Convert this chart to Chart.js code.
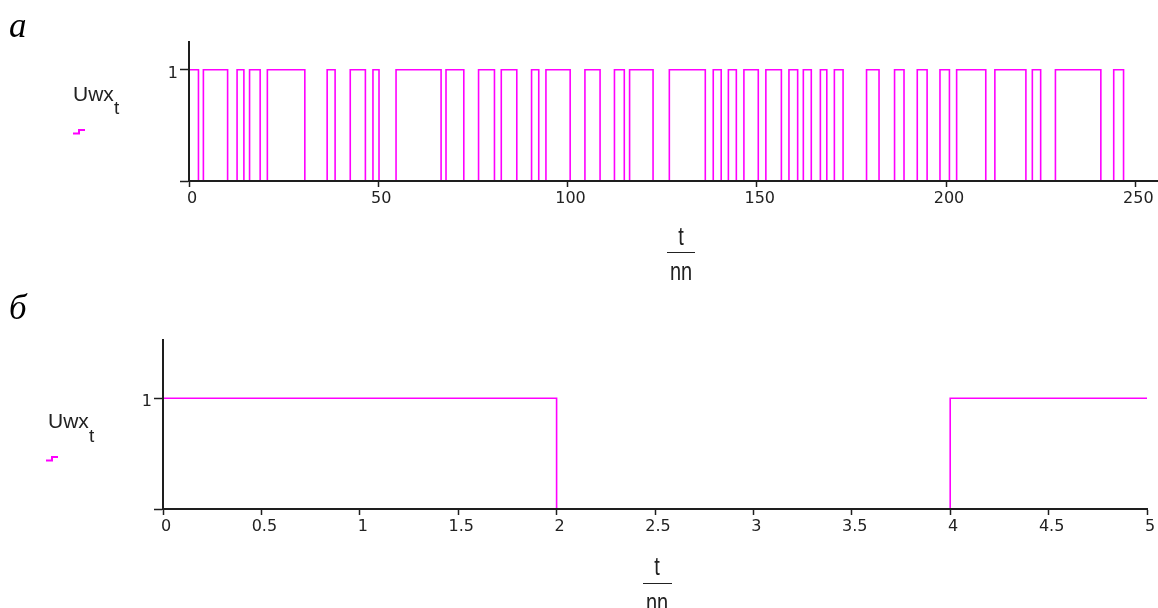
<!DOCTYPE html>
<html>
<head>
<meta charset="utf-8">
<script src="https://cdn.jsdelivr.net/npm/chart.js@4/dist/chart.umd.min.js"></script>
<style>
html,body{margin:0;padding:0;background:#fff;}
#wrap{position:relative;width:1158px;height:608px;overflow:hidden;background:#fff;}
canvas{position:absolute;left:0;}
.txt{position:absolute;font-family:"Liberation Sans",Arial,sans-serif;color:#222;white-space:nowrap;line-height:1;}
.panel{position:absolute;font-family:"Liberation Serif","Times New Roman",serif;font-style:italic;font-size:35px;line-height:1;color:#000;}
.frac{position:absolute;width:60px;text-align:center;font-family:"Liberation Sans",Arial,sans-serif;font-size:20px;line-height:1;color:#222;transform:scaleY(1.25);transform-origin:top;}
.bar{position:absolute;height:1px;background:#222;}
svg{position:absolute;}
</style>
</head>
<body>
<div id="wrap">
  <canvas id="c1" width="1158" height="290" style="top:0px"></canvas>
  <canvas id="c2" width="1158" height="318" style="top:290px"></canvas>

  <div class="panel" style="left:9px;top:8px">а</div>
  <div class="panel" style="left:9px;top:290px">б</div>

  <div class="txt" style="left:73px;top:83px;font-size:21px">Uwx</div>
  <div class="txt" style="left:114px;top:98px;font-size:19px">t</div>
  <svg style="left:72px;top:128px" width="14" height="8"><path d="M1,5.5 H7 V2 H13" fill="none" stroke="#ff00ff" stroke-width="2"/></svg>

  <div class="txt" style="left:48px;top:410px;font-size:21px">Uwx</div>
  <div class="txt" style="left:89px;top:426px;font-size:19px">t</div>
  <svg style="left:45px;top:455px" width="14" height="8"><path d="M1,5.5 H7 V2 H13" fill="none" stroke="#ff00ff" stroke-width="2"/></svg>

  <div class="frac" style="left:651px;top:224px">t</div>
  <div class="bar" style="left:667px;top:252px;width:28px"></div>
  <div class="frac" style="left:651px;top:259px">nn</div>

  <div class="frac" style="left:627px;top:554px">t</div>
  <div class="bar" style="left:643px;top:583px;width:29px"></div>
  <div class="frac" style="left:627px;top:590px">nn</div>
</div>
<script>
// ---- data (a): pulse train, transition times in t/nn and level after each transition
const topT = [0, 2.5, 3.8, 10.2, 12.7, 14.5, 16.0, 18.8, 20.7, 30.6, 36.5, 38.6, 42.6, 46.6, 48.6, 50.2, 54.7,
  66.6, 67.9, 72.6, 76.5, 80.7, 82.5, 86.6, 90.5, 92.4, 94.3, 100.7, 104.6, 108.6, 112.4, 115.0, 116.4,
  122.6, 126.9, 136.4, 138.5, 140.6, 142.5, 144.6, 146.6, 150.4, 152.4, 156.5, 158.5, 160.8, 162.3, 164.4,
  166.8, 168.5, 170.5, 172.8, 179.0, 182.3, 186.4, 188.9, 192.4, 195.0, 198.4, 200.9, 202.8, 210.5, 212.9,
  221.1, 222.8, 225.0, 228.9, 240.9, 244.3, 246.9, 256];
const topU = [1, 0, 1, 0, 1, 0, 1, 0, 1, 0, 1, 0, 1, 0, 1, 0, 1,
  0, 1, 0, 1, 0, 1, 0, 1, 0, 1, 0, 1, 0, 1, 0, 1,
  0, 1, 0, 1, 0, 1, 0, 1, 0, 1, 0, 1, 0, 1, 0,
  1, 0, 1, 0, 1, 0, 1, 0, 1, 0, 1, 0, 1, 0, 1,
  0, 1, 0, 1, 0, 1, 0, 0];
const topXTicks = [0, 50, 100, 150, 200, 250];

// ---- data (б)
const botT = [0, 2, 4, 5];
const botU = [1, 0, 1, 1];
const botXTicks = [0, 0.5, 1, 1.5, 2, 2.5, 3, 3.5, 4, 4.5, 5];

const yTicks = [0, 1];
const yLabels = ['', '1'];

function build(id, T, U, xmin, xmax, xt, ymax, yW, xH, padTop, padRight) {
  const pts = T.map((t, i) => ({x: t, y: U[i]}));
  const axisCol = '#1e1e1e';
  const font = {family: 'DejaVu Sans', size: 16};
  return new Chart(document.getElementById(id), {
    type: 'line',
    data: {datasets: [{data: pts, stepped: 'before', borderColor: '#ff00ff', borderWidth: 1.6,
      pointRadius: 0, fill: false, tension: 0, clip: {left: 2, top: 4, right: 2, bottom: 0}}]},
    options: {
      responsive: false, animation: false, devicePixelRatio: 1,
      layout: {padding: {top: padTop, right: padRight, left: 0, bottom: 0}},
      plugins: {legend: {display: false}, tooltip: {enabled: false}},
      scales: {
        x: {
          type: 'linear', min: xmin, max: xmax,
          grid: {drawOnChartArea: false, drawTicks: true, tickLength: 6, tickColor: axisCol, tickWidth: 1.5},
          border: {display: true, color: axisCol, width: 2, z: 1},
          ticks: {font, color: '#222', padding: 2, maxRotation: 0, autoSkip: false, labelOffset: 3,
            callback: v => String(v)},
          afterBuildTicks: s => { s.ticks = xt.map(v => ({value: v})); },
          afterFit: s => { s.height = xH; }
        },
        y: {
          type: 'linear', min: 0, max: ymax,
          grid: {drawOnChartArea: false, drawTicks: true, tickLength: 9, tickColor: axisCol, tickWidth: 1.5},
          border: {display: true, color: axisCol, width: 2, z: 1},
          ticks: {font, color: '#222', padding: 2, labelOffset: 4,
            callback: v => { const k = yTicks.indexOf(v); return k >= 0 ? yLabels[k] : ''; }},
          afterBuildTicks: s => { s.ticks = yTicks.map(v => ({value: v})); },
          afterFit: s => { s.width = yW; }
        }
      }
    }
  });
}

build('c1', topT, topU, 0, 256, topXTicks, 1.25, 189, 109, 42, 0);
build('c2', botT, botU, 0, 5, botXTicks, 1.525, 163, 99, 50, 11);
</script>
</body>
</html>
